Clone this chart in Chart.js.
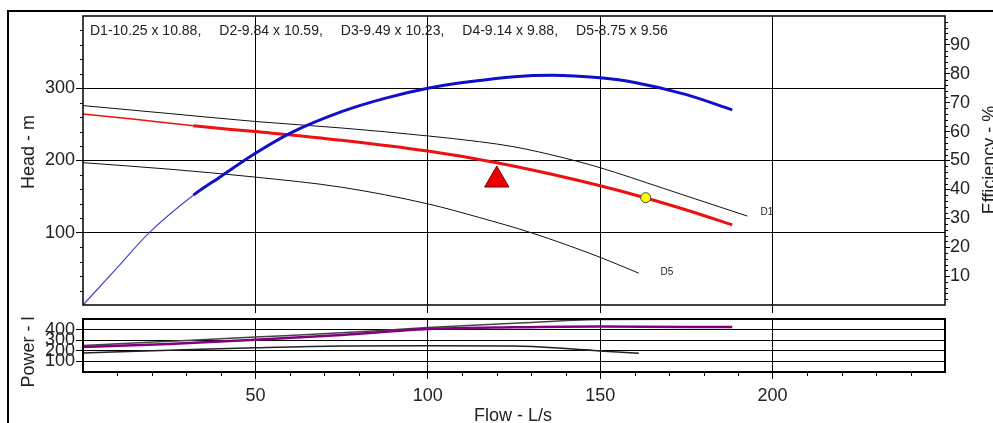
<!DOCTYPE html>
<html>
<head>
<meta charset="utf-8">
<script src="https://cdn.jsdelivr.net/npm/chart.js@4.4.1/dist/chart.umd.min.js"></script>
<style>
  html, body { margin: 0; padding: 0; background: #fff; overflow: hidden; }
  #wrap { position: relative; width: 993px; height: 423px; overflow: hidden; }
  #wrap canvas { position: absolute; left: 0; top: 0; }
  #frame { position: absolute; left: 7px; top: 10px; width: 1100px; height: 600px; border: 2px solid #000; }
</style>
</head>
<body>
<div id="wrap">
  <div id="frame"></div>
  <canvas id="headChart" width="993" height="423"></canvas>
  <canvas id="powerChart" width="993" height="423"></canvas>
</div>
<script>
// head curves (flow L/s -> head m)
let flowD1 = [0, 25, 50, 75, 100, 115, 125, 140, 150, 168, 192.7];
let headD1 = [276, 265, 254, 245, 234, 226, 219, 203, 190, 162, 123];

let flowD5 = [0, 25, 50, 75, 100, 115, 130, 150, 161.2];
let headD5 = [197, 188, 177, 163, 140, 121, 100, 66, 44];

let flowSel = [0, 15, 32, 50, 75, 100, 120, 135, 150, 163, 175, 188.3];
let headSel = [264.5, 257, 248, 240, 228, 213, 197, 182, 165, 148.5, 131.5, 111];

// efficiency of selected impeller (%)
let flowEff = [0, 10, 19, 32, 40, 50, 60, 75, 87.5, 100, 112.5, 125, 136, 150, 160, 175, 188.3];
let effSel = [0, 13, 24.8, 38, 44.5, 52.5, 59.4, 66.9, 71.5, 75, 77.3, 79, 79.5, 78.6, 77, 72.8, 67.5];

// power curves
let flowPowD1 = [0, 25, 50, 75, 100, 125, 150, 175, 192.7];
let powerD1 = [250, 290, 330, 370, 420, 460, 495, 498, 498];
let flowPowSel = [0, 25, 50, 75, 100, 125, 150, 175, 188.3];
let powerSel = [235, 265, 305, 350, 405, 422, 430, 425, 425];
let flowPowD5 = [0, 25, 50, 75, 100, 125, 140, 150, 161.2];
let powerD5 = [180, 205, 228, 245, 248, 245, 222, 198, 176];

let dutyPoint = [{ x: 120, y: 173 }];
let bepPoint = [{ x: 163.2, y: 148.5 }];
let operatingStart = 32; // curves drawn thin below this flow

let impellerNote = ["D1-10.25 x 10.88,", "D2-9.84 x 10.59,", "D3-9.49 x 10.23,", "D4-9.14 x 9.88,", "D5-8.75 x 9.56"];
let curveLabels = [
  { text: "D1", x: 196.5, y: 129 },
  { text: "D5", x: 167.5, y: 45 },
];

let FONT = "'Liberation Sans', Arial, sans-serif";
Chart.defaults.font.family = FONT;
Chart.defaults.font.size = 18;
Chart.defaults.color = "#222";

function xy(xs, ys) {
  return xs.map((x, i) => ({ x: x, y: ys[i] }));
}

function inner(lo, hi) {
  return (ctx) => (ctx.tick && ctx.tick.value > lo && ctx.tick.value < hi ? "#000" : "rgba(0,0,0,0)");
}

function innerLabel(lo, hi) {
  return (v) => (v > lo && v < hi ? v : "");
}

// small ticks between the labelled ones
let minorTicks = {
  id: "minorTicks",
  afterDraw(chart, args, opts) {
    let ctx = chart.ctx;
    let area = chart.chartArea;
    ctx.save();
    ctx.strokeStyle = "#000";
    ctx.lineWidth = 1;
    ctx.beginPath();
    (opts.list || []).forEach((m) => {
      let sc = chart.scales[m.axis];
      for (let i = 1; sc.min + i * m.step < sc.max; i++) {
        let v = sc.min + i * m.step;
        if (Math.abs(v / m.major - Math.round(v / m.major)) < 1e-6) continue;
        let p = Math.round(sc.getPixelForValue(v)) + 0.5;
        if (sc.position === "left") {
          ctx.moveTo(area.left - m.len, p);
          ctx.lineTo(area.left, p);
        } else if (sc.position === "right") {
          ctx.moveTo(area.right, p);
          ctx.lineTo(area.right + m.len, p);
        } else {
          ctx.moveTo(p, area.bottom);
          ctx.lineTo(p, area.bottom + m.len);
        }
      }
    });
    ctx.stroke();
    ctx.restore();
  },
};

let frame = {
  id: "frame",
  afterDraw(chart, args, opts) {
    let a = chart.chartArea;
    let ctx = chart.ctx;
    ctx.save();
    ctx.strokeStyle = "#000";
    ctx.lineWidth = opts.width || 1.5;
    ctx.strokeRect(a.left, a.top, a.right - a.left, a.bottom - a.top);
    ctx.restore();
  },
};

let texts = {
  id: "texts",
  afterDraw(chart, args, opts) {
    let ctx = chart.ctx;
    (opts.items || []).forEach((t) => {
      ctx.save();
      ctx.translate(t.x, t.y);
      if (t.rot) ctx.rotate(t.rot);
      ctx.font = (t.size || 18) + "px " + FONT;
      ctx.fillStyle = "#222";
      ctx.textAlign = "center";
      ctx.textBaseline = "middle";
      ctx.fillText(t.text, 0, 0);
      ctx.restore();
    });
  },
};

let notes = {
  id: "notes",
  afterDraw(chart) {
    let ctx = chart.ctx;
    ctx.save();
    ctx.font = "14px " + FONT;
    ctx.fillStyle = "#222";
    ctx.textBaseline = "alphabetic";
    let x = chart.chartArea.left + 7;
    impellerNote.forEach((s) => {
      ctx.fillText(s, x, chart.chartArea.top + 19);
      x += ctx.measureText(s).width + 18;
    });
    ctx.font = "10px " + FONT;
    ctx.textBaseline = "middle";
    curveLabels.forEach((l) => {
      ctx.fillText(l.text, chart.scales.x.getPixelForValue(l.x), chart.scales.y.getPixelForValue(l.y));
    });
    ctx.restore();
  },
};

let thin = (ctx) => ctx.p0.parsed.x < operatingStart;

new Chart(document.getElementById("headChart"), {
  type: "line",
  data: {
    datasets: [
      {
        data: dutyPoint,
        showLine: false,
        pointStyle: "triangle",
        pointRadius: 14,
        backgroundColor: "#ee0000",
        borderColor: "#700",
        borderWidth: 1,
      },
      {
        data: bepPoint,
        showLine: false,
        pointStyle: "circle",
        pointRadius: 5,
        backgroundColor: "#ffff00",
        borderColor: "#444",
        borderWidth: 1,
      },
      {
        data: xy(flowEff, effSel),
        yAxisID: "y2",
        borderColor: "#1010cc",
        borderWidth: 3,
        pointRadius: 0,
        cubicInterpolationMode: "monotone",
        segment: {
          borderWidth: (ctx) => (thin(ctx) ? 1.2 : 3),
          borderColor: (ctx) => (thin(ctx) ? "#4848c8" : "#1010cc"),
        },
      },
      {
        data: xy(flowSel, headSel),
        borderColor: "#ee1010",
        borderWidth: 3,
        pointRadius: 0,
        cubicInterpolationMode: "monotone",
        segment: { borderWidth: (ctx) => (thin(ctx) ? 1.5 : 3) },
      },
      {
        data: xy(flowD1, headD1),
        borderColor: "#111",
        borderWidth: 1,
        pointRadius: 0,
        cubicInterpolationMode: "monotone",
      },
      {
        data: xy(flowD5, headD5),
        borderColor: "#111",
        borderWidth: 1,
        pointRadius: 0,
        cubicInterpolationMode: "monotone",
      },
    ],
  },
  options: {
    responsive: false,
    animation: false,
    layout: { padding: { top: 16, bottom: 110, left: 0, right: 0 } },
    plugins: {
      legend: { display: false },
      tooltip: { enabled: false },
      minorTicks: {
        list: [
          { axis: "y", step: 20, major: 100, len: 3 },
          { axis: "y2", step: 2, major: 10, len: 3 },
        ],
      },
      frame: { width: 1.5 },
      texts: {
        items: [
          { text: "Head - m", x: 29, y: 152, rot: -Math.PI / 2 },
          { text: "Efficiency - %", x: 990, y: 160, rot: -Math.PI / 2 },
        ],
      },
    },
    scales: {
      x: {
        type: "linear",
        min: 0,
        max: 250,
        ticks: { display: false, stepSize: 50 },
        grid: { color: inner(0, 250), tickColor: inner(0, 250), tickLength: 8 },
        border: { display: false },
        afterFit: (s) => {
          s.height = 8;
        },
      },
      y: {
        position: "left",
        min: 0,
        max: 400,
        ticks: { stepSize: 100, padding: 1, autoSkip: false, callback: innerLabel(0, 400) },
        grid: { color: inner(0, 400), tickColor: inner(0, 400), tickLength: 7 },
        border: { display: false },
        afterFit: (s) => {
          s.width = 83;
        },
      },
      y2: {
        position: "right",
        min: 0,
        max: 100,
        ticks: { stepSize: 10, padding: 0, autoSkip: false, callback: innerLabel(0, 100) },
        grid: { drawOnChartArea: false, tickColor: inner(0, 100), tickLength: 5 },
        border: { display: false },
        afterFit: (s) => {
          s.width = 48;
        },
      },
    },
  },
  plugins: [minorTicks, frame, texts, notes],
});

new Chart(document.getElementById("powerChart"), {
  type: "line",
  data: {
    datasets: [
      {
        data: xy(flowPowSel, powerSel),
        borderColor: "#800080",
        borderWidth: 2.5,
        pointRadius: 0,
        cubicInterpolationMode: "monotone",
      },
      {
        data: xy(flowPowD1, powerD1),
        borderColor: "#444",
        borderWidth: 1.5,
        pointRadius: 0,
        cubicInterpolationMode: "monotone",
      },
      {
        data: xy(flowPowD5, powerD5),
        borderColor: "#222",
        borderWidth: 1.5,
        pointRadius: 0,
        cubicInterpolationMode: "monotone",
      },
    ],
  },
  options: {
    responsive: false,
    animation: false,
    layout: { padding: { top: 319, bottom: 0, left: 0, right: 48 } },
    plugins: {
      legend: { display: false },
      tooltip: { enabled: false },
      minorTicks: { list: [{ axis: "x", step: 10, major: 50, len: 4 }] },
      frame: { width: 2 },
      texts: {
        items: [
          { text: "Power - l", x: 29, y: 352, rot: -Math.PI / 2 },
          { text: "Flow - L/s", x: 513, y: 416 },
        ],
      },
    },
    scales: {
      x: {
        type: "linear",
        min: 0,
        max: 250,
        ticks: { stepSize: 50, padding: 6, autoSkip: false, maxRotation: 0, callback: innerLabel(0, 250) },
        grid: { color: inner(0, 250), tickColor: inner(0, 250), tickLength: 7 },
        border: { display: false },
        afterFit: (s) => {
          s.height = 51;
        },
      },
      y: {
        position: "left",
        min: 0,
        max: 500,
        ticks: { stepSize: 100, padding: 1, autoSkip: false, callback: innerLabel(0, 500) },
        grid: { color: inner(0, 500), tickColor: inner(0, 500), tickLength: 7 },
        border: { display: false },
        afterFit: (s) => {
          s.width = 83;
        },
      },
    },
  },
  plugins: [minorTicks, frame, texts],
});
</script>
</body>
</html>
